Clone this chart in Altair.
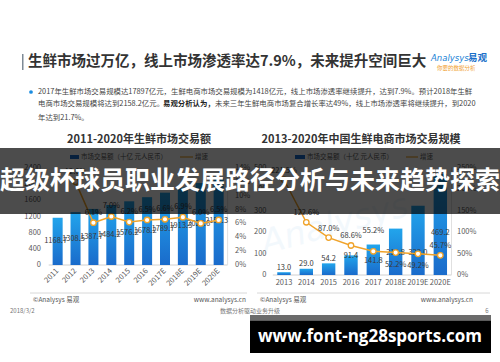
import altair as alt
import pandas as pd

FONT = "Noto Sans CJK SC"
ORANGE = "#f0a32a"
DARK = "#3a3a3a"
GREY = "#5a5a5a"

# ---------------- data ----------------
left_years = ["2011", "2012", "2013", "2014", "2015", "2016", "2017E", "2018E", "2019E", "2020E"]
left_values = [1168.7, 1308.5, 1387.7, 1484.2, 1576.2, 1678.2, 1789.7, 1913.3, 2027.6, 2158.3]
left_growth = [None, 12.0, 6.1, 7.0, 6.2, 6.5, 6.6, 6.9, 6.0, 6.5]
left_ticks = [0, 400, 800, 1200, 1600, 2000, 2400]
left_pct_ticks = [0, 2, 4, 6, 8, 10, 12, 14]

right_years = ["2013", "2014", "2015", "2016", "2017", "2018E", "2019E", "2020E"]
right_values = [13.0, 29.0, 54.2, 91.4, 141.8, 215.8, 322.0, 469.2]
right_growth = [221.5, 122.6, 87.0, 68.6, 55.2, 52.2, 49.2, 45.7]
right_ticks = [0, 100, 200, 300, 400, 500]
right_pct_ticks = [0, 50, 100, 150, 200, 250]

W, H = 500, 362

grad = alt.Gradient(
    gradient="linear",
    stops=[alt.GradientStop(color="#22a5ec", offset=0),
           alt.GradientStop(color="#1a6bcb", offset=1)],
    x1=0, x2=0, y1=0, y2=1,
)


def txt(s, x, y, size=7, color=GREY, weight="normal", align="left",
        baseline="middle", font=FONT, opacity=1.0, angle=0, italic=False):
    kw = dict(fontSize=size, color=color, fontWeight=weight, align=align,
              baseline=baseline, font=font, opacity=opacity, angle=angle)
    if italic:
        kw["fontStyle"] = "italic"
    return alt.Chart(pd.DataFrame({"t": [s]})).mark_text(**kw).encode(
        x=alt.value(x), y=alt.value(y), text="t:N")


def rect(x, x2, y, y2, color, opacity=1.0):
    return alt.Chart(pd.DataFrame({"a": [0]})).mark_rect(color=color, opacity=opacity).encode(
        x=alt.value(x), x2=alt.value(x2), y=alt.value(y), y2=alt.value(y2))


def rule(x, x2, y, y2, color="#d0d0d0", width=1.0):
    return alt.Chart(pd.DataFrame({"a": [0]})).mark_rule(color=color, strokeWidth=width).encode(
        x=alt.value(x), x2=alt.value(x2), y=alt.value(y), y2=alt.value(y2))


def panel(years, values, growth, vdom, gdom, xr, yr, pad_inner, ticks, pct_ticks,
          lab_x, pct_x, rotate, xlab_y, bar_label_expr, growth_label_expr):
    df = pd.DataFrame({"year": years, "v": values, "g": growth})
    xb = alt.X("year:N", sort=years, axis=None,
               scale=alt.Scale(type="band", domain=years, range=xr,
                               paddingInner=pad_inner, paddingOuter=pad_inner / 2))
    xp = alt.X("year:N", sort=years, axis=None,
               scale=alt.Scale(type="point", domain=years, range=xr, padding=0.5))
    ysv = alt.Scale(domain=vdom, range=yr, nice=False, zero=True)
    ysg = alt.Scale(domain=gdom, range=yr, nice=False, zero=True)

    bars = alt.Chart(df).mark_bar(color=grad).encode(
        x=xb, y=alt.Y("v:Q", scale=ysv, axis=None))
    blab = alt.Chart(df).transform_calculate(
        ly=bar_label_expr, lab="format(datum.v, '.1f')"
    ).mark_text(fontSize=7.5, color=DARK, font=FONT, dx=-2 if rotate else 0).encode(
        x=xp, y=alt.Y("ly:Q", scale=ysv, axis=None), text="lab:N")
    gdf = alt.Chart(df).transform_filter("datum.g != null")
    line = gdf.mark_line(color=ORANGE, strokeWidth=1.5).encode(
        x=xp, y=alt.Y("g:Q", scale=ysg, axis=None))
    pts = gdf.mark_point(shape="circle", filled=True, fill="white", stroke=ORANGE,
                         strokeWidth=1.3, size=30, opacity=1).encode(
        x=xp, y=alt.Y("g:Q", scale=ysg, axis=None))
    glab = gdf.transform_calculate(
        gy=growth_label_expr, lab="format(datum.g, '.1f') + '%'"
    ).mark_text(fontSize=7.5, color=DARK, font=FONT).encode(
        x=xp, y=alt.Y("gy:Q", scale=ysg, axis=None), text="lab:N")

    tdf = pd.DataFrame({"t": ticks})
    tl = alt.Chart(tdf).mark_text(fontSize=7.5, color=GREY, align="right", font=FONT).encode(
        x=alt.value(lab_x), y=alt.Y("t:Q", scale=ysv, axis=None), text="t:N")
    pdf = pd.DataFrame({"p": pct_ticks})
    pl = alt.Chart(pdf).transform_calculate(lab="datum.p + '%'").mark_text(
        fontSize=7.5, color=GREY, align="left", font=FONT).encode(
        x=alt.value(pct_x), y=alt.Y("p:Q", scale=ysg, axis=None), text="lab:N")

    ydf = pd.DataFrame({"year": years})
    if rotate:
        xl = alt.Chart(ydf).mark_text(fontSize=7.5, color=GREY, angle=315, align="right",
                                      baseline="middle", font=FONT).encode(
            x=xp, y=alt.value(xlab_y), text="year:N")
    else:
        xl = alt.Chart(ydf).mark_text(fontSize=7.5, color=GREY, font=FONT).encode(
            x=xp, y=alt.value(xlab_y), text="year:N")

    base_y = yr[0]
    frame = [
        rule(xr[0], xr[1], base_y, base_y),
        rule(xr[1], xr[1], yr[1], base_y, color="#e0e0e0"),
    ]
    return frame + [bars, blab, line, pts, glab, tl, pl, xl]


left_layers = panel(
    left_years, left_values, left_growth, [0, 2400], [0, 14],
    [48.7, 227.6], [265, 168], 0.44, left_ticks, left_pct_ticks,
    41, 235, True, 270,
    "datum.v / 2", "datum.g + 1.45")

right_layers = panel(
    right_years, right_values, right_growth, [0, 500], [0, 250],
    [272.8, 451.5], [275, 167.5], 0.40, right_ticks, right_pct_ticks,
    266.5, 457, False, 283,
    "datum.v < 80 ? datum.v + 20 : datum.v < 100 ? datum.v - 3 : datum.v < 150 ? 66 : datum.v < 400 ? 103 : 195",
    "datum.year == '2017' ? datum.g + 48 : (datum.year == '2018E' || datum.year == '2019E') ? datum.g - 29 : datum.g + 21")

header = [
    rect(22, 23.5, 54, 70, "#7d8a96"),
    txt("生鲜市场过万亿，线上市场渗透率达7.9%，未来提升空间巨大", 28, 62, size=14.5,
        color="#333333", weight="bold"),
    txt("Analysys", 431, 58, size=8.5, color="#1a82d6", italic=True, font="DejaVu Sans"),
    txt("易观", 468, 58, size=9.5, color="#1a6fc9", weight="bold"),
    txt("你要的数据分析", 437, 68, size=5.5, color="#f0a030"),
    alt.Chart(pd.DataFrame({"a": [0]})).mark_circle(color="#1a8ce0", size=14, opacity=1).encode(
        x=alt.value(31), y=alt.value(92)),
    txt("2017年生鲜市场交易规模达17897亿元，生鲜电商市场交易规模为1418亿元，线上市场渗透率继续提升，达到7.9%。预计2018年生鲜",
        38, 92, size=7.4, color="#444444"),
    txt("电商市场交易规模将达到2158.2亿元。", 38, 104, size=7.4, color="#444444"),
    txt("易观分析认为，", 163, 104, size=7.4, color="#222222", weight="bold"),
    txt("未来三年生鲜电商市场复合增长率达49%，线上市场渗透率将继续提升，到2020", 215, 104,
        size=7.4, color="#444444"),
    txt("年达到21.7%。", 38, 117.5, size=7.4, color="#444444"),
    # chart titles
    txt("2011-2020年生鲜市场交易额", 139, 140, size=11, color="#333333", weight="bold", align="center"),
    txt("2013-2020年中国生鲜电商市场交易规模", 361, 140, size=11, color="#333333", weight="bold",
        align="center"),
    # legends
    rect(70, 79, 155, 159, "#1a6bcb"),
    txt("市场交易额（十亿 元人民币）", 81, 157, size=6.5),
    rule(180, 193, 157, 157, color=ORANGE, width=1.2),
    txt("增速", 195, 157, size=6.5),
    rect(295, 305, 155, 159, "#1a6bcb"),
    txt("市场交易额（十亿 元人民币）", 307, 157, size=6.5),
    rule(406, 418, 157, 157, color=ORANGE, width=1.2),
    txt("增速", 420, 157, size=6.5),
    # watermark
    txt("Analysys", 335, 225, size=34, color="#1a82d6", opacity=0.05, angle=345,
        align="center", font="DejaVu Sans", italic=True),
]

footer = [
    rule(30, 247, 293, 293, color="#d8d8d8"),
    rule(257, 490, 293, 293, color="#d8d8d8"),
    txt("©Analysys 易观", 33, 300, size=6.5, color="#555555"),
    txt("www.analysys.cn", 246, 300, size=6.5, color="#555555", align="right"),
    txt("©Analysys 易观", 260, 300, size=6.5, color="#555555"),
    txt("www.analysys.cn", 473, 300, size=6.5, color="#555555", align="right"),
    txt("2018/3/2", 10, 310.5, size=6, color="#777777"),
    txt("数据分析驱动业务升级", 250, 310.5, size=6, color="#777777", align="center"),
    txt("6", 487, 310.5, size=6, color="#777777", align="center"),
]

overlay = [
    rect(0, 500, 148, 214, "#000000", opacity=0.7),
    txt("超级杯球员职业发展路径分析与未来趋势探索", 250, 181, size=25, color="white",
        weight="bold", align="center"),
    rect(250, 491, 315, 320.5, "#6b6b6b"),
    rect(250, 491, 320.5, 353, "#000000"),
    txt("www.font-ng28sports.com", 370, 337, size=17, color="white", weight="bold",
        align="center", font="Open Sans"),
]

chart = alt.layer(*(header + left_layers + right_layers + footer + overlay)).resolve_scale(
    x="independent", y="independent"
).properties(
    width=W, height=H, autosize=alt.AutoSizeParams(type="none"), padding=0,
    background="white",
).configure_view(stroke=None)

chart.save("out.html", embed_options={"renderer": "svg", "actions": False})
